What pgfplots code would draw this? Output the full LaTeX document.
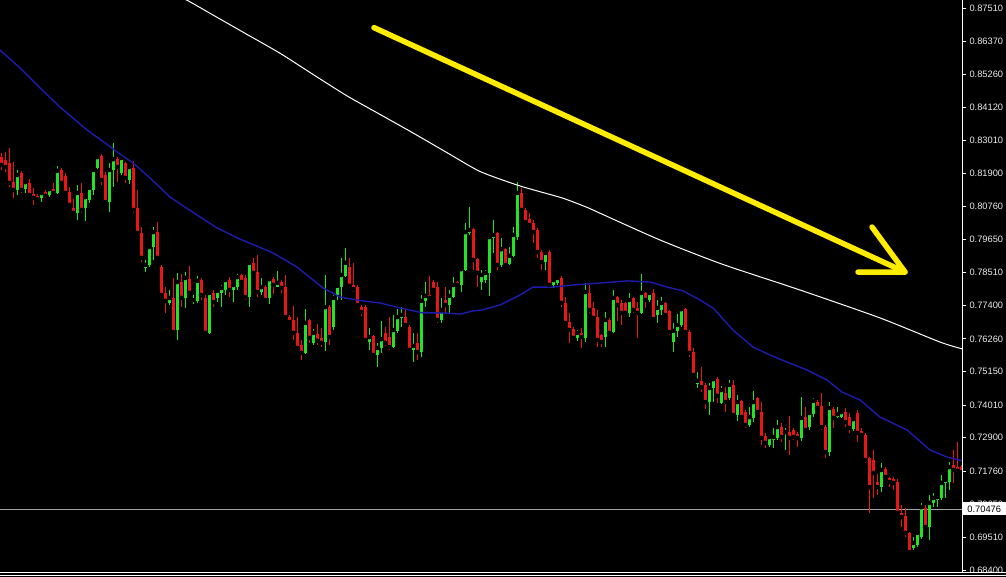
\documentclass[border=0pt]{standalone}
\usepackage{pgfplots}
\usepackage{pgfplotstable}
\usepackage{fontspec}
\setmainfont{Liberation Sans}
\pgfplotsset{compat=1.18}

\definecolor{bullgreen}{RGB}{34,228,34}
\definecolor{bearred}{RGB}{232,22,22}
\definecolor{maBlue}{RGB}{28,28,175}
\definecolor{arrowYellow}{RGB}{255,236,0}
\definecolor{priceGray}{RGB}{165,165,165}
\definecolor{tickText}{RGB}{236,236,236}

% candle index, open, high, low, close
\pgfplotstableread{
i o h l c
0 0.8244 0.8258 0.8200 0.8217
1 0.8234 0.8261 0.8193 0.8210
2 0.8224 0.8275 0.8142 0.8156
3 0.8159 0.8227 0.8105 0.8132
4 0.8132 0.8200 0.8115 0.8183
5 0.8190 0.8197 0.8122 0.8132
6 0.8135 0.8166 0.8122 0.8159
7 0.8156 0.8169 0.8108 0.8115
8 0.8118 0.8139 0.8081 0.8105
9 0.8112 0.8118 0.8095 0.8101
10 0.8105 0.8125 0.8091 0.8122
11 0.8125 0.8132 0.8105 0.8112
12 0.8115 0.8139 0.8108 0.8135
13 0.8135 0.8156 0.8118 0.8122
14 0.8122 0.8214 0.8118 0.8197
15 0.8200 0.8207 0.8149 0.8156
16 0.8180 0.8190 0.8115 0.8122
17 0.8125 0.8142 0.8074 0.8081
18 0.8071 0.8101 0.8047 0.8054
19 0.8054 0.8149 0.8030 0.8122
20 0.8122 0.8156 0.8054 0.8064
21 0.8071 0.8115 0.8027 0.8108
22 0.8098 0.8142 0.8088 0.8139
23 0.8132 0.8207 0.8115 0.8200
24 0.8207 0.8251 0.8203 0.8244
25 0.8248 0.8254 0.8149 0.8166
26 0.8183 0.8193 0.8088 0.8091
27 0.8091 0.8224 0.8057 0.8200
28 0.8200 0.8292 0.8142 0.8237
29 0.8237 0.8244 0.8159 0.8210
30 0.8190 0.8251 0.8183 0.8241
31 0.8224 0.8227 0.8156 0.8173
32 0.8166 0.8217 0.8152 0.8210
33 0.8207 0.8231 0.8054 0.8064
34 0.8071 0.8132 0.7979 0.7986
35 0.7986 0.8006 0.7887 0.7901
36 0.7867 0.7894 0.7853 0.7877
37 0.7877 0.7945 0.7870 0.7938
38 0.7938 0.8006 0.7894 0.7989
39 0.7989 0.8023 0.7894 0.7901
40 0.7870 0.7877 0.7768 0.7775
41 0.7782 0.7802 0.7714 0.7755
42 0.7748 0.7792 0.7741 0.7765
43 0.7765 0.7833 0.7646 0.7649
44 0.7656 0.7850 0.7622 0.7819
45 0.7819 0.7846 0.7734 0.7765
46 0.7765 0.7853 0.7731 0.7833
47 0.7829 0.7874 0.7775 0.7782
48 0.7755 0.7775 0.7744 0.7758
49 0.7755 0.7840 0.7748 0.7823
50 0.7826 0.7833 0.7758 0.7775
51 0.7765 0.7775 0.7639 0.7646
52 0.7646 0.7789 0.7642 0.7782
53 0.7782 0.7792 0.7734 0.7751
54 0.7765 0.7795 0.7751 0.7789
55 0.7782 0.7809 0.7734 0.7799
56 0.7792 0.7833 0.7775 0.7826
57 0.7826 0.7836 0.7768 0.7792
58 0.7792 0.7816 0.7751 0.7809
59 0.7802 0.7846 0.7792 0.7836
60 0.7843 0.7846 0.7816 0.7819
61 0.7833 0.7843 0.7758 0.7768
62 0.7768 0.7891 0.7734 0.7884
63 0.7884 0.7901 0.7843 0.7850
64 0.7853 0.7911 0.7768 0.7785
65 0.7785 0.7833 0.7775 0.7802
66 0.7802 0.7809 0.7751 0.7758
67 0.7765 0.7833 0.7744 0.7829
68 0.7829 0.7836 0.7778 0.7809
69 0.7802 0.7857 0.7802 0.7816
70 0.7819 0.7826 0.7782 0.7799
71 0.7802 0.7843 0.7697 0.7700
72 0.7700 0.7707 0.7680 0.7683
73 0.7690 0.7738 0.7622 0.7646
74 0.7646 0.7700 0.7588 0.7595
75 0.7605 0.7622 0.7554 0.7578
76 0.7578 0.7727 0.7574 0.7680
77 0.7690 0.7693 0.7612 0.7629
78 0.7612 0.7659 0.7605 0.7646
79 0.7642 0.7676 0.7605 0.7619
80 0.7629 0.7663 0.7598 0.7612
81 0.7615 0.7843 0.7585 0.7734
82 0.7734 0.7741 0.7605 0.7632
83 0.7666 0.7775 0.7656 0.7765
84 0.7775 0.7809 0.7758 0.7806
85 0.7802 0.7901 0.7758 0.7843
86 0.7840 0.7935 0.7836 0.7884
87 0.7870 0.7901 0.7802 0.7806
88 0.7809 0.7884 0.7785 0.7795
89 0.7802 0.7809 0.7734 0.7741
90 0.7734 0.7741 0.7704 0.7717
91 0.7734 0.7741 0.7615 0.7622
92 0.7615 0.7663 0.7588 0.7632
93 0.7636 0.7639 0.7564 0.7571
94 0.7571 0.7612 0.7530 0.7595
95 0.7595 0.7687 0.7578 0.7625
96 0.7646 0.7666 0.7602 0.7612
97 0.7632 0.7700 0.7588 0.7598
98 0.7598 0.7707 0.7595 0.7656
99 0.7653 0.7727 0.7646 0.7700
100 0.7697 0.7734 0.7666 0.7707
101 0.7700 0.7724 0.7670 0.7673
102 0.7666 0.7673 0.7581 0.7588
103 0.7588 0.7646 0.7547 0.7602
104 0.7612 0.7646 0.7554 0.7581
105 0.7581 0.7775 0.7564 0.7755
106 0.7755 0.7819 0.7734 0.7772
107 0.7775 0.7840 0.7758 0.7765
108 0.7819 0.7826 0.7785 0.7792
109 0.7802 0.7819 0.7680 0.7690
110 0.7690 0.7765 0.7680 0.7724
111 0.7758 0.7802 0.7714 0.7741
112 0.7741 0.7792 0.7710 0.7772
113 0.7768 0.7836 0.7765 0.7809
114 0.7819 0.7823 0.7806 0.7809
115 0.7809 0.7870 0.7785 0.7863
116 0.7860 0.8020 0.7857 0.7989
117 0.7986 0.8074 0.7979 0.7996
118 0.7999 0.8003 0.7860 0.7894
119 0.7897 0.7901 0.7802 0.7850
120 0.7819 0.7860 0.7792 0.7843
121 0.7826 0.7860 0.7816 0.7850
122 0.7850 0.7979 0.7772 0.7972
123 0.7969 0.8030 0.7918 0.7979
124 0.7986 0.7989 0.7860 0.7877
125 0.7877 0.7969 0.7870 0.7931
126 0.7931 0.7935 0.7870 0.7877
127 0.7880 0.7938 0.7877 0.7908
128 0.7908 0.8006 0.7904 0.7979
129 0.7972 0.8159 0.7962 0.8122
130 0.8122 0.8139 0.8057 0.8064
131 0.8064 0.8071 0.8020 0.8023
132 0.8033 0.8054 0.8006 0.8013
133 0.8020 0.8030 0.7952 0.7989
134 0.7996 0.8003 0.7901 0.7921
135 0.7921 0.7928 0.7860 0.7887
136 0.7887 0.7921 0.7860 0.7918
137 0.7921 0.7928 0.7802 0.7809
138 0.7809 0.7833 0.7799 0.7826
139 0.7816 0.7836 0.7809 0.7833
140 0.7833 0.7840 0.7734 0.7748
141 0.7748 0.7768 0.7673 0.7680
142 0.7683 0.7714 0.7612 0.7656
143 0.7659 0.7666 0.7622 0.7629
144 0.7629 0.7656 0.7619 0.7646
145 0.7646 0.7663 0.7595 0.7632
146 0.7629 0.7816 0.7615 0.7785
147 0.7782 0.7809 0.7714 0.7724
148 0.7731 0.7751 0.7690 0.7697
149 0.7700 0.7724 0.7598 0.7622
150 0.7639 0.7642 0.7598 0.7615
151 0.7632 0.7717 0.7598 0.7690
152 0.7690 0.7697 0.7639 0.7646
153 0.7649 0.7792 0.7646 0.7765
154 0.7768 0.7772 0.7687 0.7741
155 0.7748 0.7758 0.7673 0.7714
156 0.7748 0.7751 0.7707 0.7714
157 0.7714 0.7782 0.7700 0.7758
158 0.7765 0.7768 0.7714 0.7724
159 0.7731 0.7751 0.7629 0.7714
160 0.7714 0.7846 0.7710 0.7782
161 0.7782 0.7785 0.7731 0.7758
162 0.7758 0.7785 0.7751 0.7782
163 0.7782 0.7795 0.7690 0.7693
164 0.7707 0.7758 0.7680 0.7731
165 0.7724 0.7768 0.7707 0.7748
166 0.7748 0.7751 0.7700 0.7707
167 0.7721 0.7724 0.7639 0.7649
168 0.7615 0.7680 0.7581 0.7653
169 0.7653 0.7710 0.7632 0.7673
170 0.7673 0.7734 0.7666 0.7727
171 0.7727 0.7731 0.7646 0.7649
172 0.7649 0.7656 0.7564 0.7578
173 0.7581 0.7595 0.7496 0.7503
174 0.7472 0.7513 0.7459 0.7483
175 0.7483 0.7530 0.7445 0.7462
176 0.7469 0.7476 0.7387 0.7411
177 0.7411 0.7476 0.7367 0.7459
178 0.7459 0.7496 0.7411 0.7489
179 0.7489 0.7496 0.7408 0.7432
180 0.7408 0.7466 0.7404 0.7452
181 0.7442 0.7462 0.7377 0.7411
182 0.7425 0.7486 0.7418 0.7469
183 0.7469 0.7486 0.7360 0.7367
184 0.7367 0.7435 0.7347 0.7411
185 0.7415 0.7418 0.7357 0.7360
186 0.7377 0.7384 0.7323 0.7333
187 0.7333 0.7394 0.7326 0.7360
188 0.7357 0.7449 0.7343 0.7411
189 0.7425 0.7428 0.7374 0.7377
190 0.7377 0.7411 0.7265 0.7289
191 0.7296 0.7306 0.7255 0.7272
192 0.7265 0.7299 0.7258 0.7292
193 0.7282 0.7323 0.7255 0.7292
194 0.7289 0.7350 0.7282 0.7326
195 0.7326 0.7340 0.7275 0.7292
196 0.7306 0.7323 0.7248 0.7309
197 0.7309 0.7364 0.7231 0.7289
198 0.7316 0.7323 0.7282 0.7292
199 0.7302 0.7309 0.7258 0.7289
200 0.7289 0.7428 0.7279 0.7357
201 0.7360 0.7394 0.7309 0.7316
202 0.7326 0.7377 0.7316 0.7374
203 0.7370 0.7425 0.7360 0.7415
204 0.7411 0.7418 0.7384 0.7391
205 0.7398 0.7442 0.7316 0.7326
206 0.7326 0.7333 0.7221 0.7241
207 0.7241 0.7411 0.7228 0.7391
208 0.7387 0.7394 0.7323 0.7357
209 0.7360 0.7394 0.7357 0.7370
210 0.7360 0.7384 0.7357 0.7377
211 0.7377 0.7391 0.7326 0.7343
212 0.7360 0.7374 0.7306 0.7323
213 0.7320 0.7357 0.7313 0.7353
214 0.7374 0.7384 0.7275 0.7306
215 0.7313 0.7323 0.7292 0.7299
216 0.7299 0.7306 0.7204 0.7214
217 0.7221 0.7224 0.7034 0.7122
218 0.7214 0.7248 0.7085 0.7170
219 0.7139 0.7166 0.7095 0.7122
220 0.7122 0.7204 0.7105 0.7180
221 0.7183 0.7190 0.7153 0.7156
222 0.7153 0.7156 0.7122 0.7139
223 0.7149 0.7156 0.7112 0.7136
224 0.7139 0.7149 0.7027 0.7034
225 0.7034 0.7061 0.6986 0.7020
226 0.7024 0.7051 0.6952 0.6966
227 0.6966 0.6969 0.6898 0.6901
228 0.6915 0.6952 0.6908 0.6932
229 0.6925 0.6969 0.6918 0.6966
230 0.6952 0.7068 0.6945 0.7054
231 0.7051 0.7061 0.6983 0.6986
232 0.6986 0.7095 0.6942 0.7068
233 0.7068 0.7102 0.7054 0.7085
234 0.7078 0.7095 0.7054 0.7088
235 0.7085 0.7163 0.7078 0.7136
236 0.7136 0.7149 0.7085 0.7146
237 0.7139 0.7207 0.7112 0.7190
238 0.7197 0.7248 0.7136 0.7180
239 0.7190 0.7275 0.7170 0.7177
240 0.7190 0.7197 0.7166 0.7173
}\candles

% fast moving average (blue)
\pgfplotstableread{
i ma
-0.25 0.8608
4.75 0.8547
9.75 0.8479
14.75 0.8414
21.5 0.8336
26 0.8292
29.75 0.8254
33 0.8224
37.25 0.8173
42.25 0.8108
49 0.8047
54 0.8003
59.75 0.7965
68 0.7918
74 0.7870
80.5 0.7799
84.75 0.7768
90.25 0.7755
94.75 0.7748
99.75 0.7731
105.5 0.7714
110.5 0.7714
114.75 0.7710
118 0.7721
120.25 0.7724
124.75 0.7741
129.75 0.7775
133 0.7802
138 0.7802
143 0.7809
150.25 0.7816
156.5 0.7823
162.25 0.7819
166.5 0.7802
170.5 0.7789
174.75 0.7758
178 0.7731
180.25 0.7697
183 0.7656
188 0.7598
192.25 0.7571
196.5 0.7547
201.5 0.7520
206.5 0.7486
210.25 0.7445
214.75 0.7418
219.75 0.7360
226.5 0.7316
232.25 0.7248
236.5 0.7224
240.25 0.7212
}\mafast

% slow moving average (white)
\pgfplotstableread{
i ma
43.5 0.8793
46.4 0.8778
53 0.8727
61.5 0.8661
69.75 0.8597
78 0.8525
86.5 0.8452
94.75 0.8389
103 0.8326
111.5 0.8259
119.75 0.8195
129 0.8149
134 0.8129
140.5 0.8104
146.5 0.8073
150.25 0.8050
164.75 0.7962
180.25 0.7880
199.75 0.7792
219.75 0.7697
234.75 0.7615
240.25 0.7592
}\maslow

% rising candles keep close >= open, falling ones close < open
\pgfplotsset{
  bull only/.style={restrict expr to domain={\thisrow{c}-\thisrow{o}}{0:1}},
  bear only/.style={restrict expr to domain={\thisrow{c}-\thisrow{o}}{-1:-0.00001}},
}

\begin{document}
\begin{tikzpicture}
\useasboundingbox (0,-4pt) rectangle (1006pt,573pt);
\fill[black] (0,-4pt) rectangle (1006pt,573pt);
\begin{axis}[
  at={(0,0)}, anchor=south west,
  scale only axis, width=962pt, height=573pt,
  xmin=-0.25, xmax=240.25, ymin=0.68298, ymax=0.8778,
  axis line style={draw=none},
  xtick=\empty,
  ytick pos=right, yticklabel pos=right,
  tick align=outside, major tick length=4pt,
  ytick style={draw=white, line width=0.8pt},
  ytick={0.8751,0.8637,0.8526,0.8412,0.8301,0.8190,0.8076,0.7965,0.7851,0.7740,0.7626,0.7515,0.7401,0.7290,0.7176,0.7065,0.6951,0.6840},
  yticklabels={0.87510,0.86370,0.85260,0.84120,0.83010,0.81900,0.80760,0.79650,0.78510,0.77400,0.76260,0.75150,0.74010,0.72900,0.71760,0.70650,0.69510,0.68400},
  yticklabel style={font=\fontsize{9.3}{10}\selectfont, text=tickText, anchor=west},
  unbounded coords=discard,
]
% current price line
\addplot[priceGray, line width=0.8pt] coordinates {(-0.25,0.70476) (240.25,0.70476)};
\coordinate (cp) at (axis cs:240.25,0.70476);

% wicks
\addplot[only marks, mark=none, bull only,
  error bars/.cd, y dir=both, y explicit, error mark=none,
  error bar style={bullgreen, line width=1pt}]
  table[x=i, y=c, y error plus expr=\thisrow{h}-\thisrow{c},
        y error minus expr=\thisrow{c}-\thisrow{l}] {\candles};
\addplot[only marks, mark=none, bear only,
  error bars/.cd, y dir=both, y explicit, error mark=none,
  error bar style={bearred, line width=1pt}]
  table[x=i, y=c, y error plus expr=\thisrow{h}-\thisrow{c},
        y error minus expr=\thisrow{c}-\thisrow{l}] {\candles};
% bodies
\addplot[only marks, mark=none, bull only,
  error bars/.cd, y dir=minus, y explicit, error mark=none,
  error bar style={bullgreen, line width=3pt}]
  table[x=i, y=c, y error minus expr=\thisrow{c}-\thisrow{o}] {\candles};
\addplot[only marks, mark=none, bear only,
  error bars/.cd, y dir=plus, y explicit, error mark=none,
  error bar style={bearred, line width=3pt}]
  table[x=i, y=c, y error plus expr=\thisrow{o}-\thisrow{c}] {\candles};

% moving averages
\addplot[maBlue, line width=1.4pt] table[x=i, y=ma] {\mafast};
\addplot[white, line width=1pt, smooth, tension=0.4] table[x=i, y=ma] {\maslow};

% trend arrow
\draw[arrowYellow, line width=5.5pt, line cap=round]
  (axis cs:93.25,0.8684) -- (axis cs:226,0.7853);
\draw[arrowYellow, line width=5.5pt, line cap=round, line join=round]
  (axis cs:217.75,0.8006) -- (axis cs:226,0.7853) -- (axis cs:214.25,0.7853);
\end{axis}
% frame lines
\draw[white, line width=0.9pt] (962.5pt,0) -- (962.5pt,573pt);
\draw[white, line width=0.9pt] (0,0.5pt) -- (1006pt,0.5pt);
\draw[white, line width=0.9pt] (0,-2.8pt) -- (1006pt,-2.8pt);
% current price tag
\node[fill=white, text=black, anchor=west, inner sep=0pt,
      minimum width=43pt, minimum height=13pt,
      font=\fontsize{9.3}{10}\selectfont] at ([xshift=0.5pt]cp) {0.70476};
\end{tikzpicture}
\end{document}
